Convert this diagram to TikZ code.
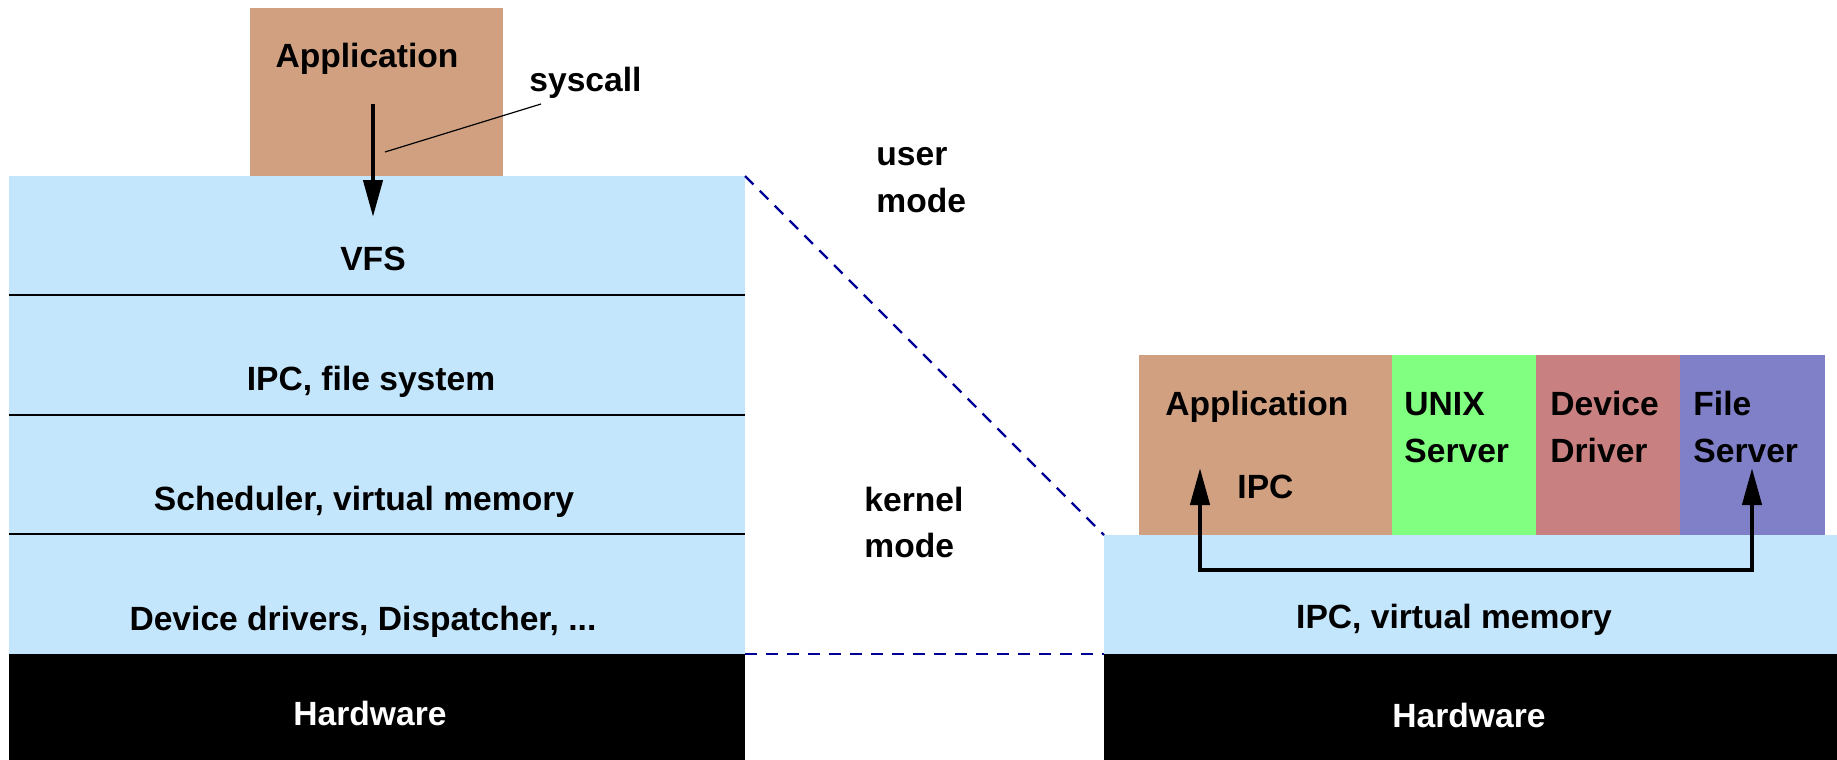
\documentclass[tikz,border=0pt]{standalone}
\usepackage{fontspec}
\setmainfont{Liberation Sans}
\usetikzlibrary{arrows.meta}
\definecolor{appc}{RGB}{208,160,128}
\definecolor{layerc}{RGB}{196,230,252}
\definecolor{unixc}{RGB}{128,255,128}
\definecolor{devc}{RGB}{200,128,128}
\definecolor{filec}{RGB}{128,128,200}
\definecolor{dashc}{RGB}{0,0,150}
\begin{document}
\begin{tikzpicture}[x=0.5pt,y=-0.5pt,
  box/.style={rectangle,inner sep=0pt,outer sep=0pt,draw=none},
  lbl/.style={font=\bfseries\fontsize{16.8}{19}\selectfont,inner sep=0pt,anchor=base},
  lblw/.style={lbl,anchor=base west},
  tip/.tip={Triangle[length=18.5pt,width=9.5pt]},
  arr/.style={line width=2.2pt,-tip},
  biarr/.style={line width=2.2pt,tip-tip},
  modeline/.style={dashc,line width=1.2pt,dash pattern=on 6pt off 4.5pt},
  divider/.style={line width=0.7pt}]

\useasboundingbox (0,0) rectangle (1837,760);

% ---------- left: monolithic kernel ----------
\node[box,fill=appc,minimum width=126.5pt,minimum height=84pt] (appL) at (376.5,92) {};
\node[box,fill=layerc,minimum width=368pt,minimum height=59.5pt] (vfsL) at (377,235.5) {};
\node[box,fill=layerc,minimum width=368pt,minimum height=60pt] (ipcL) at (377,355) {};
\node[box,fill=layerc,minimum width=368pt,minimum height=59.5pt] (schL) at (377,474.5) {};
\node[box,fill=layerc,minimum width=368pt,minimum height=60pt] (devL) at (377,594) {};
\node[box,fill=black,minimum width=368pt,minimum height=53pt] (hwL) at (377,707) {};

\draw[divider] (ipcL.north west) -- (ipcL.north east);
\draw[divider] (schL.north west) -- (schL.north east);
\draw[divider] (devL.north west) -- (devL.north east);

\node[lbl] (appLt) at (367,68) {Application};
\node[lblw] (syscall) at (529,91) {syscall};
\node[lbl] (vfsLt) at (373,270) {VFS};
\node[lbl] (ipcLt) at (371,390) {IPC, file system};
\node[lbl] (schLt) at (364,510) {Scheduler, virtual memory};
\node[lbl] (devLt) at (363,630) {Device drivers, Dispatcher, ...};
\node[lbl,text=white] (hwLt) at (370,725) {Hardware};

\coordinate (callS) at (373,104);
\coordinate (callE) at (373,217);
\draw[arr] (callS) -- (callE);
\coordinate (callP) at (385,152);
\coordinate (callQ) at (541,104);
\draw[line width=0.6pt] (callP) -- (callQ);

% ---------- mode labels ----------
\node[lblw] (userT) at (876,165) {user};
\node[lblw] (userM) at (876,212) {mode};
\node[lblw] (kernT) at (864,511) {kernel};
\node[lblw] (kernM) at (864,557) {mode};

% ---------- right: microkernel ----------
\node[box,fill=layerc,minimum width=366.5pt,minimum height=59.5pt] (ipcR) at (1470.5,594.5) {};
\node[box,fill=black,minimum width=366.5pt,minimum height=53pt] (hwR) at (1470.5,707) {};
\node[box,fill=appc,minimum width=126.5pt,minimum height=90pt] (appR) at (1265.5,445) {};
\node[box,fill=unixc,minimum width=72pt,minimum height=90pt] (unixR) at (1464,445) {};
\node[box,fill=devc,minimum width=72pt,minimum height=90pt] (devR) at (1608,445) {};
\node[box,fill=filec,minimum width=72.5pt,minimum height=90pt] (fileR) at (1752.5,445) {};

\node[lblw] (appRt) at (1165,415) {Application};
\node[lblw] (ipcRa) at (1237,498) {IPC};
\node[lblw] (unixRt) at (1404,415) {UNIX};
\node[lblw] (unixRs) at (1404,462) {Server};
\node[lblw] (devRt) at (1550,415) {Device};
\node[lblw] (devRs) at (1550,462) {Driver};
\node[lblw] (fileRt) at (1693,415) {File};
\node[lblw] (fileRs) at (1693,462) {Server};
\node[lbl] (ipcRt) at (1454,628) {IPC, virtual memory};
\node[lbl,text=white] (hwRt) at (1469,727) {Hardware};

\coordinate (ipcA) at (1200,468);
\coordinate (ipcB) at (1752,468);
\draw[biarr] (ipcA) -- (1200,570) -- (1752,570) -- (ipcB);

% ---------- mode boundaries ----------
\draw[modeline] (vfsL.north east) -- (ipcR.north west);
\draw[modeline] (hwL.north east) -- (hwR.north west);
\end{tikzpicture}
\end{document}
